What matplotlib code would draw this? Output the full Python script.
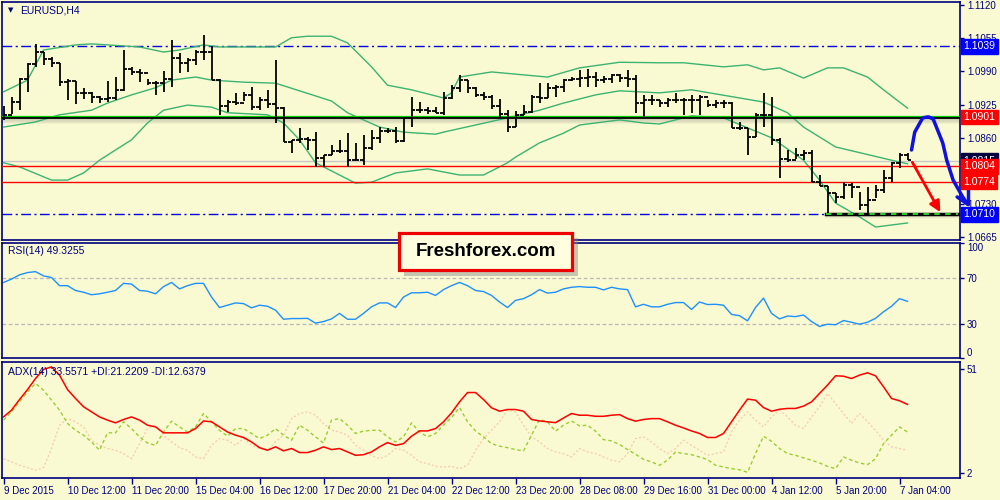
import matplotlib.pyplot as plt
from matplotlib.collections import LineCollection
from matplotlib.patches import Rectangle

plt.rcParams['font.family'] = ['Liberation Sans', 'DejaVu Sans']

# EURUSD H4 bars (open = previous close)
first_open = 1.0899
highs = [1.0922, 1.0940, 1.0977, 1.1007, 1.1044, 1.1028, 1.1018, 1.1007, 1.0975, 1.0971,
         1.0958, 1.0950, 1.0942, 1.0971, 1.0979, 1.1032, 1.0999, 1.0995, 1.0975, 1.0971,
         1.0991, 1.1052, 1.1026, 1.1016, 1.1032, 1.1061, 1.1040, 1.0975, 1.0934, 1.0948,
         1.0950, 1.0959, 1.0940, 1.0954, 1.1012, 1.0920, 1.0856, 1.0879, 1.0861, 1.0871,
         1.0826, 1.0846, 1.0856, 1.0869, 1.0850, 1.0865, 1.0875, 1.0881, 1.0879, 1.0881,
         1.0899, 1.0940, 1.0930, 1.0920, 1.0920, 1.0950, 1.0963, 1.0983, 1.0973, 1.0959,
         1.0950, 1.0944, 1.0936, 1.0914, 1.0912, 1.0924, 1.0944, 1.0967, 1.0967, 1.0963,
         1.0975, 1.0979, 1.0993, 1.0995, 1.0989, 1.0981, 1.0985, 1.0985, 1.0993, 1.0983,
         1.0944, 1.0944, 1.0934, 1.0938, 1.0948, 1.0938, 1.0944, 1.0944, 1.0934, 1.0934,
         1.0934, 1.0930, 1.0891, 1.0879, 1.0909, 1.0948, 1.0940, 1.0860, 1.0836, 1.0840,
         1.0836, 1.0836, 1.0787, 1.0765, 1.0752, 1.0773, 1.0771, 1.0754, 1.0763, 1.0767,
         1.0797, 1.0812, 1.0830, 1.0830]
lows = [1.0895, 1.0907, 1.0914, 1.0950, 1.0999, 1.1003, 1.0999, 1.0961, 1.0934, 1.0926,
        1.0936, 1.0928, 1.0928, 1.0930, 1.0934, 1.0952, 1.0983, 1.0969, 1.0963, 1.0944,
        1.0950, 1.0959, 1.0987, 1.0989, 1.1003, 1.1012, 1.0973, 1.0905, 1.0910, 1.0924,
        1.0932, 1.0914, 1.0914, 1.0918, 1.0889, 1.0852, 1.0830, 1.0850, 1.0836, 1.0803,
        1.0803, 1.0826, 1.0830, 1.0803, 1.0816, 1.0807, 1.0836, 1.0850, 1.0869, 1.0850,
        1.0852, 1.0881, 1.0909, 1.0907, 1.0909, 1.0905, 1.0936, 1.0950, 1.0948, 1.0940,
        1.0934, 1.0916, 1.0899, 1.0871, 1.0881, 1.0905, 1.0908, 1.0928, 1.0938, 1.0940,
        1.0950, 1.0971, 1.0959, 1.0959, 1.0959, 1.0967, 1.0967, 1.0969, 1.0959, 1.0909,
        1.0901, 1.0924, 1.0920, 1.0920, 1.0928, 1.0905, 1.0909, 1.0905, 1.0920, 1.0918,
        1.0918, 1.0879, 1.0875, 1.0826, 1.0861, 1.0881, 1.0846, 1.0781, 1.0812, 1.0818,
        1.0816, 1.0773, 1.0765, 1.0713, 1.0732, 1.0740, 1.0742, 1.0718, 1.0713, 1.0742,
        1.0752, 1.0773, 1.0801, 1.0816]
closes = [1.0905, 1.0930, 1.0975, 1.1005, 1.1028, 1.1014, 1.1007, 1.0969, 1.0971, 1.0948,
          1.0948, 1.0940, 1.0936, 1.0938, 1.0954, 1.0995, 1.0989, 1.0987, 1.0967, 1.0967,
          1.0975, 1.1016, 1.1007, 1.1012, 1.1028, 1.1028, 1.0973, 1.0922, 1.0930, 1.0928,
          1.0944, 1.0920, 1.0934, 1.0926, 1.0918, 1.0852, 1.0856, 1.0858, 1.0856, 1.0820,
          1.0826, 1.0834, 1.0834, 1.0816, 1.0816, 1.0840, 1.0860, 1.0873, 1.0873, 1.0854,
          1.0899, 1.0914, 1.0914, 1.0912, 1.0909, 1.0938, 1.0958, 1.0973, 1.0958, 1.0944,
          1.0940, 1.0922, 1.0907, 1.0881, 1.0905, 1.0910, 1.0940, 1.0938, 1.0958, 1.0959,
          1.0973, 1.0975, 1.0977, 1.0979, 1.0973, 1.0975, 1.0983, 1.0977, 1.0975, 1.0928,
          1.0934, 1.0934, 1.0928, 1.0934, 1.0934, 1.0934, 1.0934, 1.0940, 1.0924, 1.0928,
          1.0928, 1.0879, 1.0879, 1.0861, 1.0905, 1.0905, 1.0856, 1.0818, 1.0816, 1.0826,
          1.0830, 1.0773, 1.0765, 1.0752, 1.0744, 1.0767, 1.0763, 1.0728, 1.0738, 1.0758,
          1.0781, 1.0810, 1.0826, 1.0816]

# Bollinger bands, sampled at bar indices
upper_idx = [0, 3, 5, 9, 11, 17, 20, 22, 25, 27, 34, 36, 38, 41, 43, 46, 48, 51, 55, 56,
             57, 61, 68, 72, 77, 82, 85, 90, 93, 95, 97, 100, 103, 105, 108, 110, 113]
upper_val = [1.0950, 1.0973, 1.1032, 1.1042, 1.1044, 1.1038, 1.1028, 1.1032, 1.1042, 1.1038,
             1.1038, 1.1056, 1.1059, 1.1059, 1.1046, 1.0999, 1.0963, 1.0954, 1.0938, 1.0948,
             1.0979, 1.0989, 1.0979, 1.0997, 1.1008, 1.1007, 1.1007, 1.0999, 1.1003, 1.0993,
             1.0997, 1.0977, 1.0997, 1.0997, 1.0979, 1.0954, 1.0918]
middle_idx = [0, 4, 7, 11, 13, 16, 19, 21, 24, 26, 30, 34, 41, 43, 47, 50, 54, 55, 59, 63,
              67, 70, 74, 77, 82, 86, 95, 98, 100, 104, 111, 113]
middle_val = [1.0881, 1.0891, 1.0905, 1.0914, 1.0928, 1.0944, 1.0958, 1.0973, 1.0979, 1.0973,
              1.0969, 1.0967, 1.0932, 1.0909, 1.0881, 1.0871, 1.0867, 1.0871, 1.0885, 1.0899,
              1.0914, 1.0928, 1.0944, 1.0952, 1.0948, 1.0954, 1.0930, 1.0909, 1.0881, 1.0842,
              1.0816, 1.0809]
lower_idx = [0, 2, 6, 8, 10, 12, 16, 18, 20, 23, 26, 28, 33, 35, 37, 39, 41, 44, 46, 49,
             53, 57, 60, 63, 64, 67, 70, 72, 77, 80, 82, 86, 90, 96, 100, 102, 104, 107, 109, 113]
lower_val = [1.0811, 1.0803, 1.0777, 1.0777, 1.0791, 1.0816, 1.0856, 1.0889, 1.0914, 1.0924,
             1.0920, 1.0909, 1.0905, 1.0889, 1.0856, 1.0811, 1.0795, 1.0771, 1.0773, 1.0791,
             1.0799, 1.0787, 1.0787, 1.0811, 1.0822, 1.0850, 1.0869, 1.0885, 1.0895, 1.0889,
             1.0887, 1.0903, 1.0899, 1.0860, 1.0816, 1.0777, 1.0732, 1.0705, 1.0685, 1.0693]

rsi = [65.7, 68.6, 72.3, 74.3, 75.1, 71.4, 70.0, 62.9, 62.9, 58.7,
       57.2, 55.0, 55.8, 57.2, 58.7, 64.9, 64.3, 58.7, 58.1, 55.8,
       62.1, 65.7, 60.1, 62.9, 64.9, 64.9, 53.0, 43.9, 45.9, 47.9,
       47.3, 43.6, 45.9, 45.0, 41.6, 33.7, 34.3, 34.3, 34.5, 30.3,
       31.7, 34.0, 38.8, 33.7, 33.7, 38.8, 44.5, 47.9, 47.9, 43.9,
       53.0, 56.7, 56.7, 57.2, 54.4, 59.5, 62.9, 65.7, 62.9, 58.7,
       57.8, 54.4, 48.7, 43.9, 50.1, 51.6, 55.0, 59.5, 56.4, 57.2,
       60.1, 61.5, 62.1, 61.5, 61.5, 59.2, 61.5, 60.1, 59.5, 44.5,
       46.7, 44.5, 44.5, 46.7, 48.2, 48.2, 42.2, 48.7, 46.5, 46.7,
       45.9, 37.9, 36.8, 32.3, 43.9, 52.1, 38.8, 34.0, 36.5, 36.0,
       37.4, 31.7, 27.4, 29.4, 28.9, 32.6, 31.1, 29.4, 31.1, 34.5,
       40.2, 45.0, 51.6, 49.3]

adx = [28.4, 31.6, 36.6, 41.3, 46.5, 50.8, 52.0, 48.1, 41.3, 37.1,
       33.2, 30.8, 28.4, 26.9, 25.6, 27.2, 28.4, 26.9, 24.5, 23.7,
       20.9, 20.9, 20.9, 20.9, 22.9, 26.5, 26.1, 23.7, 21.3, 19.8,
       18.7, 16.6, 13.9, 12.7, 14.3, 12.4, 13.5, 11.6, 11.6, 12.7,
       14.3, 13.0, 13.5, 11.9, 10.3, 10.6, 11.9, 14.3, 16.3, 15.0,
       15.8, 19.3, 21.8, 21.8, 22.9, 26.1, 30.3, 35.5, 39.9, 39.9,
       36.6, 32.7, 31.1, 31.9, 31.9, 31.1, 27.2, 26.5, 26.1, 25.7,
       27.9, 30.0, 29.2, 29.2, 28.7, 28.7, 29.2, 29.5, 27.6, 26.4,
       27.2, 27.6, 27.6, 26.1, 24.5, 23.2, 21.8, 20.6, 18.7, 18.7,
       20.6, 26.1, 31.6, 36.8, 36.3, 32.8, 31.1, 32.0, 32.4, 32.4,
       33.5, 35.5, 39.5, 43.4, 47.8, 47.6, 46.5, 48.1, 49.2, 47.8,
       42.6, 37.1, 36.0, 34.3]
plus_di = [26.9, 30.8, 35.5, 40.2, 44.2, 41.0, 36.3, 31.6, 25.3, 22.1,
           19.8, 16.6, 12.7, 20.9, 20.9, 26.1, 22.9, 19.0, 16.1, 15.0,
           21.3, 26.4, 23.7, 21.3, 23.7, 30.0, 26.1, 22.1, 19.3, 22.9,
           22.9, 20.6, 18.2, 19.8, 22.9, 19.8, 17.4, 24.5, 22.1, 19.0,
           16.1, 26.9, 27.6, 24.5, 20.6, 21.7, 22.1, 22.1, 19.0, 16.6,
           19.0, 25.6, 21.3, 19.0, 20.6, 24.5, 28.1, 32.8, 26.1, 21.8,
           19.0, 15.8, 14.6, 13.9, 13.0, 12.4, 19.8, 27.2, 26.1, 21.7,
           24.5, 26.5, 24.2, 24.5, 21.7, 17.7, 17.1, 15.4, 13.0, 10.8,
           8.4, 7.2, 5.6, 8.0, 11.9, 11.1, 10.6, 9.5, 8.3, 5.6,
           4.8, 4.0, 3.5, 2.3, 11.1, 19.3, 16.9, 13.5, 11.1, 10.3,
           9.1, 8.0, 6.7, 5.1, 4.0, 9.5, 8.0, 6.7, 5.9, 8.7,
           15.8, 19.8, 23.7, 21.2]
minus_di = [8.7, 7.2, 5.6, 4.5, 3.2, 4.5, 13.5, 24.5, 27.6, 26.1,
            23.7, 17.4, 15.0, 13.5, 12.7, 11.1, 8.7, 15.8, 22.9, 24.5,
            19.8, 16.6, 13.9, 12.7, 9.5, 8.7, 15.0, 18.2, 17.4, 15.0,
            18.2, 15.0, 13.5, 12.7, 16.6, 19.8, 27.6, 30.0, 30.8, 29.2,
            25.3, 22.1, 21.3, 19.8, 15.0, 12.7, 10.3, 8.7, 10.3, 13.5,
            12.7, 10.3, 7.2, 6.4, 5.1, 4.8, 5.1, 4.0, 5.6, 12.7,
            18.2, 22.1, 26.1, 31.6, 30.8, 24.5, 19.0, 16.6, 13.5, 11.9,
            11.1, 9.5, 13.5, 11.9, 11.1, 9.5, 8.0, 7.2, 11.1, 18.2,
            19.0, 16.6, 13.5, 11.1, 13.5, 17.4, 15.0, 12.7, 10.3, 11.1,
            11.9, 21.3, 26.9, 30.8, 26.9, 23.7, 28.4, 31.6, 28.4, 24.5,
            22.9, 28.4, 33.2, 39.5, 34.7, 30.0, 25.3, 30.0, 26.1, 22.1,
            17.4, 14.3, 13.5, 12.6]

time_labels = ['9 Dec 2015', '10 Dec 12:00', '11 Dec 20:00', '15 Dec 04:00', '16 Dec 12:00',
               '17 Dec 20:00', '21 Dec 04:00', '22 Dec 12:00', '23 Dec 20:00', '28 Dec 08:00',
               '29 Dec 16:00', '31 Dec 00:00', '4 Jan 12:00', '5 Jan 20:00', '7 Jan 04:00']
price_ticks = [1.1120, 1.1055, 1.0990, 1.0925, 1.0860, 1.0795, 1.0730, 1.0665]

resistance = 1.1039
pivot = 1.0901
last_price = 1.0815
red_levels = [1.0804, 1.0774]
support = 1.0710

bg = '#FAFAD2'
navy = '#00007F'
XL = (-0.19, 119.56)

fig = plt.figure(figsize=(10, 5), dpi=100, facecolor=bg)


def panel(rect):
    ax = fig.add_axes(rect, facecolor=bg)
    ax.set_xlim(*XL)
    for s in ax.spines.values():
        s.set_color(navy)
        s.set_linewidth(1.2)
    ax.yaxis.tick_right()
    ax.tick_params(axis='y', colors=navy, labelcolor=navy, length=3, width=1,
                   labelsize=7, pad=2)
    ax.set_xticks([])
    return ax


ax = panel([0.002, 0.52, 0.958, 0.476])
ax_rsi = panel([0.002, 0.284, 0.958, 0.23])
ax_adx = panel([0.002, 0.044, 0.958, 0.232])

# ---- price panel
ax.set_ylim(1.06596, 1.11261)
ax.set_yticks(price_ticks)
ax.set_yticklabels(['%.4f' % p for p in price_ticks])

opens = [first_open] + closes[:-1]
segs = []
for i in range(len(closes)):
    segs.append([(i, lows[i]), (i, highs[i])])
    segs.append([(i - 0.42, opens[i]), (i, opens[i])])
    segs.append([(i, closes[i]), (i + 0.42, closes[i])])
ax.add_collection(LineCollection(segs, colors='black', linewidths=1.3, zorder=5))

for bx, by in [(upper_idx, upper_val), (middle_idx, middle_val), (lower_idx, lower_val)]:
    ax.plot(bx, by, color='#3CB371', lw=1, zorder=3)

dashdot = (0, (7, 2.5, 1.5, 2.5))
ax.axhline(resistance, color='#0000E0', lw=1, ls=dashdot, zorder=2)
ax.axhline(support, color='#0000E0', lw=1, ls=dashdot, zorder=2)
for k in range(1, 7):
    ax.axhline(pivot - k * 0.000196, color='#707070', lw=1.2, alpha=0.28 - k * 0.035, zorder=2)
ax.axhline(pivot, color='black', lw=2, zorder=4)
ax.axhline(pivot + 0.00018, color='#00CC00', lw=0.9, zorder=4)
ax.axhline(last_price, color='#C8C8C8', lw=1, zorder=2)
for lv in red_levels:
    ax.axhline(lv, color='red', lw=1, zorder=4)

# support segment with green dashes
for k in range(1, 5):
    ax.plot([102.8, 119.3], [support - k * 0.000196] * 2, color='#707070', lw=1.2,
            alpha=0.25 - k * 0.05, zorder=4, clip_on=False)
ax.plot([102.8, 119.3], [support, support], color='black', lw=2.5, zorder=5, clip_on=False)
ax.plot([102.8, 119.3], [support, support], color='#33DD33', lw=1.3, ls=(0, (3, 3)),
        zorder=6, clip_on=False)

# forecast arrows
ax.annotate('', xy=(117.1, 1.0714), xytext=(113.6, 1.0812),
            arrowprops=dict(arrowstyle='-|>', color='red', lw=2, mutation_scale=16,
                            shrinkA=0, shrinkB=0), zorder=7)
blue_x = [113.5, 113.9, 114.9, 115.6, 116.2, 117.4, 117.9, 118.7, 119.9, 120.5]
blue_y = [1.0836, 1.0871, 1.0899, 1.0901, 1.0897, 1.0850, 1.0816, 1.0777, 1.0744, 1.0730]
ax.plot(blue_x, blue_y, color='#1010E0', lw=2.5, solid_capstyle='round',
        solid_joinstyle='round', zorder=7, clip_on=False)
ax.plot([120.5, 120.5], [1.0730, 1.0763], color='#1010E0', lw=2.5, zorder=7, clip_on=False,
        solid_capstyle='round')
ax.plot([120.5, 119.2], [1.0730, 1.0744], color='#1010E0', lw=2.5, zorder=7, clip_on=False,
        solid_capstyle='round')

# right-hand price boxes
tr = ax.get_yaxis_transform()
boxes = [(resistance, '#0000FF'), (pivot, '#FF0000'), (last_price, '#000040'),
         (red_levels[0], '#FF0000'), (red_levels[1], '#FF0000'), (support, '#0000FF')]
for val, col in boxes:
    ax.text(1.0035, val, '%.4f' % val, transform=tr, ha='left', va='center', fontsize=7.5,
            color='white', clip_on=False, zorder=10,
            bbox=dict(boxstyle='square,pad=0.22', facecolor=col, edgecolor=col))

ax.text(0.006, 0.965, '\u25bc', transform=ax.transAxes, fontsize=5, color=navy,
        va='center', ha='left', family='DejaVu Sans')
ax.text(0.019, 0.966, 'EURUSD,H4', transform=ax.transAxes, fontsize=7.5, color=navy,
        va='center', ha='left')

# ---- RSI panel
ax_rsi.set_ylim(0, 100)
ax_rsi.set_yticks([100, 70, 30, 0])
ax_rsi.set_yticklabels(['100', '70', '30', '0'])
rl = ax_rsi.get_yticklabels()
rl[0].set_va('top')
rl[-1].set_va('bottom')
ax_rsi.axhline(70, color='#B8B8B8', lw=0.9, ls=(0, (3, 2)))
ax_rsi.axhline(30, color='#B8B8B8', lw=0.9, ls=(0, (3, 2)))
ax_rsi.plot(range(len(rsi)), rsi, color='#1E90FF', lw=1)
ax_rsi.text(0.006, 0.93, 'RSI(14) 49.3255', transform=ax_rsi.transAxes, fontsize=7.5,
            color=navy, va='center', ha='left')

# ---- ADX panel
ax_adx.set_ylim(-0.4, 54.3)
ax_adx.set_yticks([51, 2])
ax_adx.set_yticklabels(['51', '2'])
xs = range(len(adx))
ax_adx.plot(xs, minus_di, color='#F6CFB0', lw=1, ls=(0, (1.5, 1.5)))
ax_adx.plot(xs, plus_di, color='#9ACD32', lw=1, ls=(0, (2.5, 2)))
ax_adx.plot(xs, adx, color='red', lw=1.1)
ax_adx.text(0.006, 0.915, 'ADX(14) 33.5571 +DI:21.2209 -DI:12.6379',
            transform=ax_adx.transAxes, fontsize=7.5, color=navy, va='center', ha='left')
ax_adx.set_xticks(range(0, 8 * len(time_labels), 8))
ax_adx.set_xticklabels(time_labels)
ax_adx.tick_params(axis='x', colors=navy, labelcolor=navy, length=4, width=1,
                   labelsize=7, pad=2)
for lbl in ax_adx.get_xticklabels():
    lbl.set_ha('left')

# ---- watermark box
fig.add_artist(Rectangle((0.404, 0.448), 0.174, 0.076, transform=fig.transFigure,
                         facecolor='#888888', alpha=0.45, edgecolor='none', zorder=20))
fig.add_artist(Rectangle((0.399, 0.46), 0.173, 0.075, transform=fig.transFigure,
                         facecolor='#FFFFE0', edgecolor='#EE0000', lw=2.3, zorder=21))
fig.text(0.4855, 0.497, 'Freshforex.com', ha='center', va='center', fontsize=13.5,
         fontweight='bold', color='black', zorder=22)

fig.savefig('out.png', dpi=100, facecolor=bg)
